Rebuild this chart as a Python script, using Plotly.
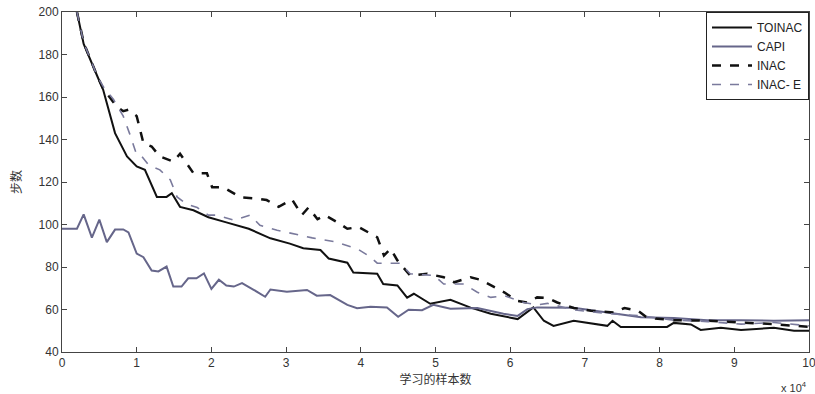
import plotly.graph_objects as go

# x in units of 10^4 samples
toinac_x = [0.2, 0.29, 0.47, 0.55, 0.71, 0.87, 1.0, 1.11, 1.27, 1.40, 1.47, 1.58, 1.76, 1.96, 2.2, 2.5, 2.79, 3.05, 3.23, 3.46, 3.57, 3.82, 3.9, 4.22, 4.30, 4.49, 4.62, 4.71, 4.93, 5.2, 5.47, 5.74, 6.1, 6.31, 6.45, 6.58, 6.85, 7.3, 7.37, 7.48, 8.1, 8.19, 8.42, 8.55, 8.82, 9.09, 9.53, 9.8, 10.0]
toinac_y = [200, 185, 170, 163.5, 143, 132, 127.3, 125.7, 113, 113, 114.7, 108.3, 106.7, 103.4, 101, 98, 93.5, 91, 88.8, 88, 84, 82, 77.4, 76.8, 72, 71.3, 65.6, 67.4, 62.7, 64.6, 60.9, 58, 55.5, 61, 54.7, 52.3, 54.7, 52.3, 54.7, 51.8, 51.8, 53.7, 53, 50.4, 51.4, 50.4, 51.4, 50, 50]

capi_x = [0.0, 0.2, 0.29, 0.4, 0.5, 0.6, 0.71, 0.82, 0.89, 1.0, 1.09, 1.2, 1.29, 1.4, 1.49, 1.6, 1.69, 1.8, 1.9, 2.0, 2.1, 2.2, 2.3, 2.41, 2.56, 2.72, 2.79, 3.01, 3.28, 3.41, 3.59, 3.82, 3.95, 4.13, 4.35, 4.5, 4.64, 4.82, 4.97, 5.2, 5.56, 5.91, 6.1, 6.23, 6.36, 6.85, 7.3, 7.75, 8.19, 8.64, 9.09, 9.53, 10.0]
capi_y = [98, 98, 104.8, 93.8, 102.3, 91.7, 97.6, 97.7, 96.3, 86.3, 84.6, 78.3, 77.9, 80.2, 70.8, 70.8, 74.7, 74.7, 77, 69.7, 74, 71.3, 70.8, 72.4, 69.4, 66, 69.4, 68.3, 69.2, 66.5, 66.8, 62.2, 60.6, 61.3, 61, 56.6, 59.9, 59.7, 62.2, 60.4, 60.7, 58, 57, 60.2, 61, 60.8, 58.6, 56.3, 56, 55, 55, 54.7, 55]

inac_x = [0.2, 0.29, 0.47, 0.55, 0.73, 0.82, 0.89, 1.0, 1.09, 1.2, 1.31, 1.49, 1.58, 1.76, 1.94, 2.01, 2.16, 2.39, 2.59, 2.74, 2.9, 3.08, 3.21, 3.3, 3.42, 3.52, 3.68, 3.82, 3.97, 4.13, 4.22, 4.31, 4.4, 4.49, 4.66, 4.89, 5.11, 5.25, 5.47, 5.6, 5.92, 6.09, 6.23, 6.36, 6.5, 6.63, 6.85, 7.08, 7.39, 7.53, 7.71, 7.84, 8.19, 8.64, 9.09, 9.53, 10.0]
inac_y = [200, 185.6, 170, 164, 155.6, 153.3, 154, 151, 138.3, 136.7, 132, 129.6, 133.3, 124.1, 124.1, 117.5, 117.5, 112.8, 112.3, 111.5, 108.3, 111.8, 104.4, 108, 102.5, 104.4, 101.2, 98, 98.8, 95.7, 94, 85.4, 88.6, 83.1, 76, 76.8, 75.2, 72.8, 75.2, 74, 68.1, 64.1, 63.3, 65.7, 65.4, 63.3, 60.7, 59.4, 58.6, 60.7, 59.4, 56, 55, 54.7, 53.9, 53.1, 51.8]

inace_x = [0.2, 0.29, 0.47, 0.55, 0.69, 0.82, 0.91, 1.0, 1.07, 1.16, 1.31, 1.45, 1.54, 1.67, 1.81, 1.96, 2.07, 2.3, 2.52, 2.65, 2.88, 3.08, 3.35, 3.64, 3.95, 4.13, 4.22, 4.53, 4.66, 4.98, 5.11, 5.38, 5.56, 5.74, 5.92, 6.18, 6.36, 6.5, 6.85, 7.3, 7.75, 8.19, 8.64, 9.09, 9.53, 10.0]
inace_y = [200, 185.6, 170, 165, 158.8, 151, 142.3, 132.8, 132, 128, 125.7, 121, 113, 109.6, 108, 104.4, 104.4, 102, 104.4, 99.6, 97.3, 95.7, 93.7, 92, 88.6, 84.7, 81.8, 81.8, 76.8, 76, 72, 72, 68.1, 65.7, 66.5, 63.3, 62.2, 62.9, 59.8, 58.1, 57, 55, 54.3, 53.1, 53.9, 52.3]

x_ticks = [0, 1, 2, 3, 4, 5, 6, 7, 8, 9, 10]
y_ticks = [40, 60, 80, 100, 120, 140, 160, 180, 200]

fig = go.Figure()
fig.add_trace(go.Scatter(x=toinac_x, y=toinac_y, mode="lines", name="TOINAC",
                         line=dict(color="#111111", width=2)))
fig.add_trace(go.Scatter(x=capi_x, y=capi_y, mode="lines", name="CAPI",
                         line=dict(color="#66668a", width=2)))
fig.add_trace(go.Scatter(x=inac_x, y=inac_y, mode="lines", name="INAC",
                         line=dict(color="#111111", width=2.5, dash="dash")))
fig.add_trace(go.Scatter(x=inace_x, y=inace_y, mode="lines", name="INAC- E",
                         line=dict(color="#7a7a9c", width=1.6, dash="dash")))

axis_common = dict(showgrid=False, zeroline=False, showline=True, linecolor="#444444",
                   linewidth=1, mirror="allticks", ticks="inside", ticklen=5,
                   tickcolor="#444444", ticklabeloverflow="allow", automargin=False,
                   tickfont=dict(family="Liberation Sans, Arial", size=12, color="#333333"))

fig.update_layout(
    width=815, height=394,
    margin=dict(l=62, r=6, t=12, b=42),
    paper_bgcolor="white", plot_bgcolor="white",
    font=dict(family="Liberation Sans, Noto Sans CJK SC", size=12, color="#333333"),
    xaxis=dict(range=[0, 10], tickvals=x_ticks, ticktext=[str(v) for v in x_ticks],
               title=dict(text="学习的样本数", font=dict(family="Noto Sans CJK SC", size=12), standoff=2),
               **axis_common),
    yaxis=dict(range=[40, 200], tickvals=y_ticks, ticktext=[str(v) for v in y_ticks],
               title=dict(text="步数", font=dict(family="Noto Sans CJK SC", size=12), standoff=14),
               **axis_common),
    legend=dict(x=1, y=1, xanchor="right", yanchor="top", bgcolor="white",
                bordercolor="#222222", borderwidth=1,
                font=dict(family="Liberation Sans, Arial", size=12, color="#222222"),
                tracegroupgap=0, itemwidth=40),
    showlegend=True,
)
fig.add_annotation(text="x 10<sup>4</sup>", xref="paper", yref="paper", x=1.0, y=0,
                   xanchor="right", yanchor="top", yshift=-26, showarrow=False,
                   font=dict(family="Liberation Sans, Arial", size=11, color="#333333"))

fig.write_html("out.html")
